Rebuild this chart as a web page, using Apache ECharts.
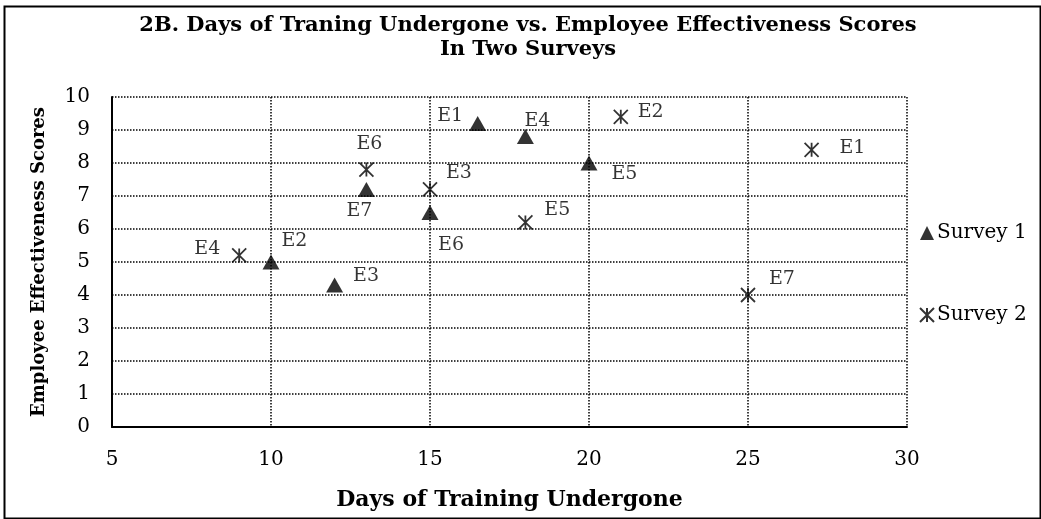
<!DOCTYPE html>
<html>
<head>
<meta charset="utf-8">
<script src="https://cdn.jsdelivr.net/npm/echarts@6/dist/echarts.min.js"></script>
<style>html,body{margin:0;padding:0;background:#fff;}#c{width:1041px;height:519px;}</style>
</head>
<body>
<div id="c"></div>
<script>
const employees = ['E1','E2','E3','E4','E5','E6','E7'];
const survey1Days = [16.5, 10, 12, 18, 20, 15, 13];
const survey1Scores = [9.2, 5.0, 4.3, 8.8, 8.0, 6.5, 7.2];
const survey2Days = [27, 21, 15, 9, 18, 13, 25];
const survey2Scores = [8.4, 9.4, 7.2, 5.2, 6.2, 7.8, 4.0];
const xTicks = [5, 10, 15, 20, 25, 30];
const yTicks = [0,1,2,3,4,5,6,7,8,9,10];

// label placement (layout only)
const s1Label = [
  {position:'left', distance:6, offset:[0,-7]},
  {position:'right', distance:2, offset:[0,-21]},
  {position:'right', distance:10, offset:[0,-9]},
  {position:'top', distance:0, offset:[12,1]},
  {position:'right', distance:14, offset:[0,11]},
  {position:'bottom', distance:16, offset:[21,0]},
  {position:'bottom', distance:5, offset:[-7,0]}
];
const s2Label = [
  {position:'right', distance:20, offset:[0,-2]},
  {position:'right', distance:9, offset:[0,-5]},
  {position:'right', distance:8, offset:[0,-16]},
  {position:'left', distance:11, offset:[0,-6]},
  {position:'right', distance:11, offset:[0,-12]},
  {position:'top', distance:8, offset:[3,0]},
  {position:'right', distance:13, offset:[0,-16]}
];

const FONT = 'DejaVu Serif';
const starPath = 'path://M0,0L10,10M10,0L0,10M5,0L5,10';

function build(days, scores, layout){
  return days.map((d,i)=>({
    value:[d, scores[i]],
    name: employees[i],
    label:{show:true, formatter: employees[i], position: layout[i].position, distance: layout[i].distance, offset: layout[i].offset}
  }));
}

const chart = echarts.init(document.getElementById('c'), null, {renderer:'canvas'});
chart.setOption({
  animation:false,
  backgroundColor:'#fff',
  title:{
    text:'2B. Days of Traning Undergone vs. Employee Effectiveness Scores\nIn Two Surveys',
    left:523, top:9, textAlign:'center',
    textStyle:{fontFamily:FONT, fontWeight:'bold', fontSize:21, lineHeight:24, color:'#000'}
  },
  legend:{
    orient:'vertical', left:914, top:218, itemGap:62, itemWidth:14, itemHeight:14,
    textStyle:{fontFamily:FONT, fontSize:20, color:'#000', padding:[0,0,0,-2]},
    data:['Survey 1','Survey 2']
  },
  grid:{left:112, right:134, top:97, bottom:92},
  xAxis:{
    type:'value', min:xTicks[0], max:xTicks[xTicks.length-1], interval:5,
    name:'Days of Training Undergone', nameLocation:'middle', nameGap:62,
    nameTextStyle:{fontFamily:FONT, fontWeight:'bold', fontSize:22, color:'#000'},
    axisLine:{show:true, lineStyle:{color:'#000', width:2}},
    axisTick:{show:false},
    axisLabel:{fontFamily:FONT, fontSize:20, color:'#000', margin:23},
    splitLine:{show:true, lineStyle:{color:'#000', type:'dotted', width:1.5}}
  },
  yAxis:{
    type:'value', min:yTicks[0], max:yTicks[yTicks.length-1], interval:1,
    name:'Employee Effectiveness Scores', nameLocation:'middle', nameGap:64,
    nameTextStyle:{fontFamily:FONT, fontWeight:'bold', fontSize:18, color:'#000'},
    axisLine:{show:true, lineStyle:{color:'#000', width:2}},
    axisTick:{show:false},
    axisLabel:{fontFamily:FONT, fontSize:20, color:'#000', margin:22},
    splitLine:{show:true, lineStyle:{color:'#000', type:'dotted', width:1.5}}
  },
  series:[
    {
      name:'Survey 1', type:'scatter', symbol:'triangle', symbolSize:[17,15],
      itemStyle:{color:'#000'},
      label:{fontFamily:FONT, fontSize:19, color:'#000'},
      data: build(survey1Days, survey1Scores, s1Label)
    },
    {
      name:'Survey 2', type:'scatter', symbol:starPath, symbolSize:14,
      itemStyle:{color:'rgba(0,0,0,0)', borderColor:'#000', borderWidth:1.8},
      label:{fontFamily:FONT, fontSize:19, color:'#000'},
      data: build(survey2Days, survey2Scores, s2Label)
    }
  ],
  graphic:[{
    type:'rect', left:2, top:4, silent:true,
    shape:{width:1036, height:512},
    style:{fill:'none', stroke:'#000', lineWidth:2}
  }]
});
</script>
</body>
</html>
